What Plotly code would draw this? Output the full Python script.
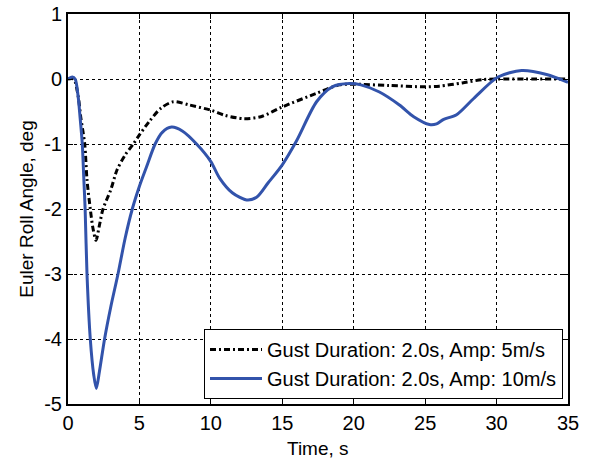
import plotly.graph_objects as go

# Gust 5 m/s (black dash-dot)
t_5 = [0, 0.4, 0.7, 0.9, 1.17, 1.33, 1.56, 1.75, 1.96, 2.2, 2.45, 3.0, 3.43, 4.0, 4.57, 5.0, 5.7,
       6.5, 7.37, 8.5, 10.0, 11.0, 12.3, 13.5, 15.0, 17.4, 19.0, 20.0, 22.5, 25.0, 26.0, 27.6, 29.0,
       30.0, 32.0, 35.0]
v_5 = [0, 0.0, -0.25, -0.6, -1.0, -1.55, -2.0, -2.3, -2.48, -2.25, -2.0, -1.7, -1.4, -1.17, -1.0,
       -0.86, -0.65, -0.45, -0.35, -0.4, -0.48, -0.56, -0.61, -0.58, -0.43, -0.22, -0.09, -0.08,
       -0.1, -0.12, -0.11, -0.06, -0.01, 0.0, 0.0, 0.0]

# Gust 10 m/s (blue)
t_10 = [0, 0.3, 0.5, 0.7, 0.85, 1.0, 1.1, 1.2, 1.33, 1.56, 1.8, 1.98, 2.2, 2.56, 3.0, 3.5, 4.0,
        4.5, 5.0, 5.5, 6.1, 6.6, 7.25, 8.0, 9.0, 10.0, 10.6, 11.5, 12.5, 13.2, 14.0, 15.0, 16.0,
        17.4, 18.5, 19.7, 20.5, 21.8, 23.2, 24.2, 25.3, 25.8, 26.3, 27.2, 28.4, 30.1, 31.75, 33.5, 35.0]
v_10 = [0, 0.03, 0.0, -0.25, -0.6, -1.0, -1.5, -2.0, -3.0, -4.0, -4.55, -4.76, -4.5, -4.0, -3.5,
        -3.0, -2.45, -2.0, -1.65, -1.35, -1.0, -0.82, -0.74, -0.8, -1.0, -1.27, -1.52, -1.75,
        -1.86, -1.82, -1.6, -1.32, -0.95, -0.35, -0.12, -0.07, -0.09, -0.2, -0.4, -0.58, -0.7,
        -0.69, -0.62, -0.55, -0.3, 0.03, 0.13, 0.07, -0.05]

x_ticks = [0, 5, 10, 15, 20, 25, 30, 35]
y_ticks = [1, 0, -1, -2, -3, -4, -5]
y_tick_labels = ["1", "0", "-1", "-2", "-3", "-4", "-5"]

FONT = "Liberation Sans, Arial, sans-serif"

fig = go.Figure()
fig.add_trace(go.Scatter(
    x=t_5, y=v_5, mode="lines", name="Gust Duration: 2.0s, Amp: 5m/s",
    line=dict(color="black", width=3, dash="6px,3px,2px,3px", shape="spline", smoothing=0.8)))
fig.add_trace(go.Scatter(
    x=t_10, y=v_10, mode="lines", name="Gust Duration: 2.0s, Amp: 10m/s",
    line=dict(color="#3253AB", width=3, shape="spline", smoothing=0.8)))

axis_common = dict(
    showline=True, linecolor="black", linewidth=2, mirror="ticks",
    ticks="inside", ticklen=5, tickwidth=1, tickcolor="black",
    showgrid=True, gridcolor="black", gridwidth=1, griddash="3px,3px",
    zeroline=False, tickfont=dict(family=FONT, size=20, color="black"),
    automargin=False, ticklabeloverflow="allow",
)

fig.update_xaxes(range=[0, 35], tickvals=x_ticks, **axis_common)
fig.update_yaxes(range=[-5, 1], tickvals=y_ticks, ticktext=y_tick_labels,
                 title=dict(text="Euler Roll Angle, deg", font=dict(family=FONT, size=19, color="black"), standoff=6),
                 **axis_common)

fig.add_annotation(text="Time, s", xref="paper", yref="paper", x=0.5, y=0,
                   xanchor="center", yanchor="middle", yshift=-44, showarrow=False,
                   font=dict(family=FONT, size=19, color="black"))

fig.update_layout(
    width=595, height=458,
    margin=dict(l=68, r=27, t=14, b=54),
    paper_bgcolor="white", plot_bgcolor="white",
    font=dict(family=FONT, size=19, color="black"),
    legend=dict(x=0.99, y=0.013, xanchor="right", yanchor="bottom",
                bgcolor="white", bordercolor="black", borderwidth=1,
                font=dict(family=FONT, size=20, color="black"),
                tracegroupgap=0, itemwidth=52),
    showlegend=True,
)

# remove the default 8px page margin so the figure fills the window exactly
fig.write_html("out.html", config={"displayModeBar": False},
               post_script="document.body.style.margin='0';")
